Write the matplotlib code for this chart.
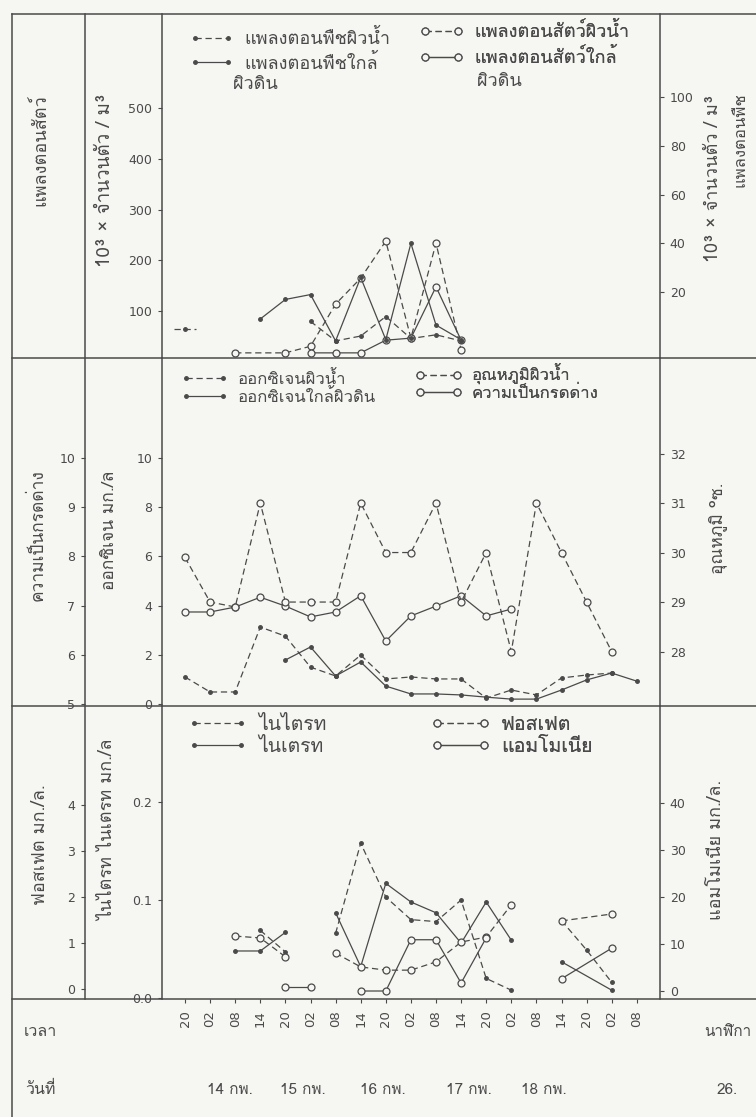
import numpy as np
import matplotlib
matplotlib.use("Agg")
import matplotlib.pyplot as plt
from matplotlib import font_manager, ft2font
from matplotlib.lines import Line2D
from matplotlib.transforms import blended_transform_factory

W, H = 756, 1117
nan = np.nan
G = None  # break in a line (nan = missing point, line carries on)

# ---------------- data ----------------
time_labels = ["20", "02", "08", "14", "20", "02", "08", "14", "20", "02",
               "08", "14", "20", "02", "08", "14", "20", "02", "08"]
date_labels = ["14 กพ.", "15 กพ.", "16 กพ.", "17 กพ.", "18 กพ."]
date_at = [1.8, 4.7, 7.9, 11.3, 14.3]

# plankton (10^3 individuals / m3)
phyto_surface = [5, G, G, G, G, 8, 0, 2, 10, 1, 2.5, 0, G, G, G, G, G, G, G]
phyto_bottom = [G, G, G, 9, 17, 19, 0, 26, 0.5, 40, 6.5, 0.5, G, G, G, G, G, G, G]
zoo_surface = [G, G, 18, nan, 18, 31, 114, 165, 238, 47, 234, 24, G, G, G, G, G, G, G]
zoo_bottom = [G, G, G, G, G, 18, 18, 18, 43, 47, 148, 43, G, G, G, G, G, G, G]

# oxygen (mg/l), temperature (C), pH
oxy_surface = [1.10, 0.49, 0.49, 3.13, 2.76, 1.50, 1.14, 1.99, 1.02, 1.10, 1.02,
               1.02, 0.24, 0.57, 0.37, 1.06, 1.18, 1.26, G]
oxy_bottom = [G, G, G, G, 1.79, 2.32, 1.14, 1.71, 0.73, 0.41, 0.41, 0.37, 0.28,
              0.20, 0.20, 0.57, 0.98, 1.26, 0.93]
temp_surface = [29.9, 29.0, 28.9, 31.0, 29.0, 29.0, 29.0, 31.0, 30.0, 30.0, 31.0,
                29.0, 30.0, 28.0, 31.0, 30.0, 29.0, 28.0, G]
ph = [6.87, 6.87, 6.97, 7.17, 6.99, 6.77, 6.87, 7.20, 6.28, 6.79, 6.99, 7.20,
      6.79, 6.93, G, G, G, G, G]

# nutrients (mg/l)
nitrite = [G, G, G, 0.069, 0.047, G, 0.066, 0.158, 0.103, 0.080, 0.078, 0.100,
           0.020, 0.008, G, 0.079, 0.049, 0.016, G]
nitrate = [G, G, 0.048, 0.048, 0.067, G, 0.087, 0.032, 0.117, 0.098, 0.087, 0.056,
           0.098, 0.059, G, 0.037, nan, 0.008, G]
phosphate = [G, G, 1.15, 1.11, 0.70, G, 0.78, 0.48, 0.41, 0.41, 0.59, 1.02, 1.13,
             1.83, G, 1.48, nan, 1.63, G]
ammonia = [G, G, G, G, 0.85, 0.85, G, 0.0, 0.0, 10.9, 10.9, 1.7, 11.3, G, G,
           2.6, nan, 9.1, G]

INK = "#4a4a4a"
BG = "#f6f6f3"


def thai_family():
    for f in font_manager.fontManager.ttflist:
        try:
            if 0x0E01 in ft2font.FT2Font(f.fname).get_charmap():
                return f.name
        except Exception:
            pass
    return "DejaVu Sans"


THAI = [thai_family(), "DejaVu Sans"]


def fx(x):
    return x / W


def fy(y):
    return 1 - y / H


def runs(vals):
    seg = []
    for i, v in enumerate(vals):
        if v is None:
            if seg:
                yield seg
            seg = []
        elif not np.isnan(v):
            seg.append((i, v))
    if seg:
        yield seg


def style(dashed, circle):
    return dict(color=INK, lw=0.9, ls=(0, (5, 3)) if dashed else "-",
                marker="o", ms=5 if circle else 2.6,
                mfc=BG if circle else INK, mec=INK, mew=0.9)


def draw(ax, vals, dashed, circle):
    st = style(dashed, circle)
    for seg in runs(vals):
        xs = [i for i, _ in seg]
        ys = [v for _, v in seg]
        if len(seg) == 1:
            ax.plot([xs[0] - 0.45, xs[0] + 0.45], [ys[0], ys[0]], color=INK,
                    lw=0.9, ls=st["ls"])
        ax.plot(xs, ys, **st)


def handle(dashed, circle):
    return Line2D([], [], **style(dashed, circle))


def legend(ax, items, x, y, fs=12, spacing=0.35, hl=2.4):
    lg = ax.legend([handle(d, c) for d, c, _ in items], [t for _, _, t in items],
                   loc="upper left", bbox_to_anchor=(fx(x), fy(y)),
                   bbox_transform=fig.transFigure, frameon=False,
                   prop={"family": THAI, "size": fs}, handlelength=hl,
                   handletextpad=0.6, labelspacing=spacing, borderpad=0,
                   borderaxespad=0, numpoints=2, labelcolor=INK)
    ax.add_artist(lg)


def ylabel(text, x, y, fs=12):
    fig.text(fx(x), fy(y), text, rotation=90, ha="center", va="center",
             fontsize=fs, color=INK, family=THAI)


def y_axis(ax, lim, ticks, labels, side, pos=None, pad=4):
    ax.set_ylim(*lim)
    ax.set_yticks(ticks)
    ax.set_yticklabels(labels)
    for s in ax.spines.values():
        s.set_visible(False)
    if side == "left":
        ax.yaxis.tick_left()
    else:
        ax.yaxis.tick_right()
    if pos is not None:
        ax.spines[side].set_position(("axes", pos))
    else:
        ax.spines[side].set_visible(True)
        ax.spines[side].set_color(INK)
        ax.spines[side].set_linewidth(1.1)
    ax.tick_params(axis="y", direction="out", length=3, width=0.8, colors=INK,
                   labelsize=9, pad=pad)


fig = plt.figure(figsize=(W / 100, H / 100), dpi=100, facecolor=BG)

x_lo = (162 - 185) / 25.1
x_hi = (660 - 185) / 25.1
outer = (85 - 162) / (660 - 162)


def panel(top, bottom):
    ax = fig.add_axes([fx(162), fy(bottom), (660 - 162) / W, (bottom - top) / H])
    ax.set_facecolor("none")
    ax.set_xlim(x_lo, x_hi)
    ax.tick_params(axis="x", bottom=False, labelbottom=False)
    return ax


# frame
for y in (14, 358, 706, 999):
    fig.add_artist(Line2D([fx(12), fx(W)], [fy(y), fy(y)], color=INK, lw=1.1))
fig.add_artist(Line2D([fx(12), fx(12)], [fy(14), fy(H)], color=INK, lw=1.1))
fig.add_artist(Line2D([fx(85), fx(85)], [fy(14), fy(999)], color=INK, lw=1.1))

# ---- panel 1: plankton ----
ax1 = panel(14, 358)
y_axis(ax1, (7.9, 685), [100, 200, 300, 400, 500], ["100", "200", "300", "400", "500"], "left")
ax1r = ax1.twinx()
y_axis(ax1r, (-7.0, 134), [20, 40, 60, 80, 100], ["20", "40", "60", "80", "100"], "right")
draw(ax1r, phyto_surface, True, False)
draw(ax1r, phyto_bottom, False, False)
draw(ax1, zoo_surface, True, True)
draw(ax1, zoo_bottom, False, True)
legend(ax1r, [(True, False, "แพลงตอนพืชผิวน้ำ"), (False, False, "แพลงตอนพืชใกล้")],
       190, 29, fs=13, spacing=0.3)
legend(ax1r, [(True, True, "แพลงตอนสัตว์ผิวน้ำ"), (False, True, "แพลงตอนสัตว์ใกล้")],
       420, 22, fs=13, spacing=0.4)
fig.text(fx(233), fy(84), "ผิวดิน", ha="left", va="center", fontsize=13, color=INK, family=THAI)
fig.text(fx(477), fy(81), "ผิวดิน", ha="left", va="center", fontsize=13, color=INK, family=THAI)
ylabel("แพลงตอนสัตว์", 40, 150, fs=13)
ylabel("10³ × จำนวนตัว / ม³", 105, 180, fs=13.5)
ylabel("10³ × จำนวนตัว / ม³", 713, 178, fs=13)
ylabel("แพลงตอนพืช", 740, 140, fs=12)

# ---- panel 2: oxygen, temperature, pH ----
ax2 = panel(358, 706)
y_axis(ax2, (-0.08, 14.07), [0, 2, 4, 6, 8, 10], ["0", "2", "4", "6", "8", "10"], "left")
ax2p = ax2.twinx()
y_axis(ax2p, (4.96, 12.03), [5, 6, 7, 8, 9, 10], ["5", "6", "7", "8", "9", "10"], "left", pos=outer)
ax2r = ax2.twinx()
y_axis(ax2r, (26.9, 33.93), [28, 29, 30, 31, 32], ["28", "29", "30", "31", "32"], "right")
draw(ax2, oxy_surface, True, False)
draw(ax2, oxy_bottom, False, False)
draw(ax2p, ph, False, True)
draw(ax2r, temp_surface, True, True)
legend(ax2r, [(True, False, "ออกซิเจนผิวน้ำ"), (False, False, "ออกซิเจนใกล้ผิวดิน")],
       181, 371, fs=12, spacing=0.05, hl=2.8)
legend(ax2r, [(True, True, "อุณหภูมิผิวน้ำ"), (False, True, "ความเป็นกรดด่าง")],
       415, 364, fs=12, spacing=0.05, hl=2.8)
ylabel("ความเป็นกรดด่าง", 38, 535, fs=12.5)
ylabel("ออกซิเจน มก./ล", 110, 530, fs=12.5)
ylabel("อุณหภูมิ °ซ.", 718, 528, fs=12.5)

# ---- panel 3: nutrients ----
ax3 = panel(706, 999)
y_axis(ax3, (-0.001, 0.298), [0.0, 0.1, 0.2], ["0.0", "0.1", "0.2"], "left")
ax3p = ax3.twinx()
y_axis(ax3p, (-0.217, 6.15), [0, 1, 2, 3, 4], ["0", "1", "2", "3", "4"], "left", pos=outer)
ax3r = ax3.twinx()
y_axis(ax3r, (-1.7, 60.6), [0, 10, 20, 30, 40], ["0", "10", "20", "30", "40"], "right")
draw(ax3, nitrite, True, False)
draw(ax3, nitrate, False, False)
draw(ax3p, phosphate, True, True)
draw(ax3r, ammonia, False, True)
legend(ax3r, [(True, False, "ไนไตรท"), (False, False, "ไนเตรท")], 188, 716,
       fs=14, spacing=0.2, hl=3.0)
legend(ax3r, [(True, True, "ฟอสเฟต"), (False, True, "แอมโมเนีย")], 431, 716,
       fs=14, spacing=0.2, hl=3.0)
ylabel("ฟอสเฟต มก./ล.", 40, 845, fs=13)
ylabel("ไนไตรท ไนเตรท มก./ล", 108, 830, fs=13)
ylabel("แอมโมเนีย มก./ล.", 716, 850, fs=13)

# x axis: times and dates
ax3.tick_params(axis="x", bottom=True, labelbottom=True, direction="out", length=3,
                width=0.8, colors=INK, labelsize=9.5, pad=5)
ax3.set_xticks(range(len(time_labels)))
ax3.set_xticklabels(time_labels, rotation=90)
tr = blended_transform_factory(ax3.transData, fig.transFigure)
for d, x in zip(date_labels, date_at):
    ax3.text(x, fy(1090), d, transform=tr, ha="center", va="center", fontsize=11,
             color=INK, family=THAI)
fig.text(fx(40), fy(1032), "เวลา", ha="center", va="center", fontsize=11.5, color=INK, family=THAI)
fig.text(fx(40), fy(1090), "วันที่", ha="center", va="center", fontsize=11.5, color=INK, family=THAI)
fig.text(fx(728), fy(1032), "นาฬิกา", ha="center", va="center", fontsize=11, color=INK, family=THAI)
fig.text(fx(727), fy(1090), "26.", ha="center", va="center", fontsize=11, color=INK, family=THAI)

fig.savefig("out.png", dpi=100, facecolor=BG)
